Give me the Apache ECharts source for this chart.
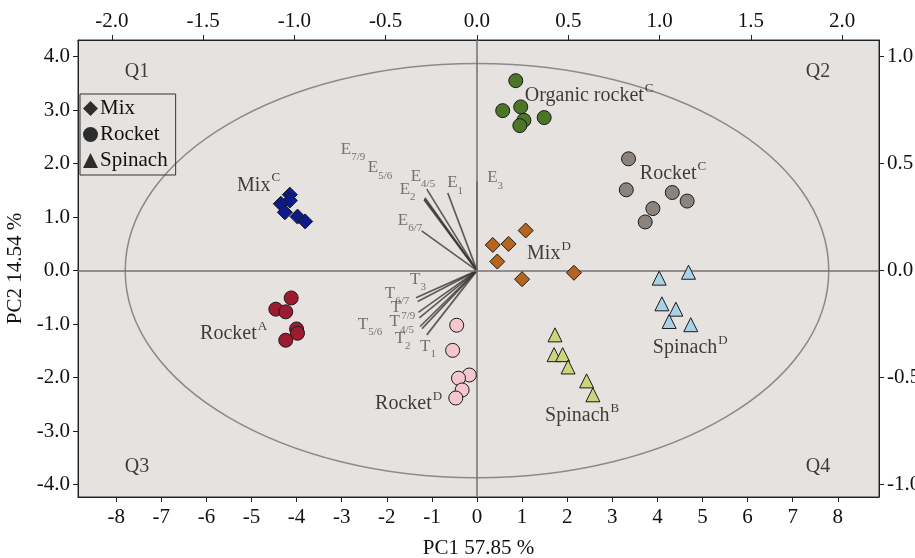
<!DOCTYPE html>
<html>
<head>
<meta charset="utf-8">
<script src="https://cdn.jsdelivr.net/npm/echarts@6/dist/echarts.min.js"></script>
<style>
html,body{margin:0;padding:0;background:#fff;}
#chart{width:915px;height:558px;}
</style>
</head>
<body>
<div id="chart"></div>
<script>
// ---------- DATA ----------
const xTicks = [-8,-7,-6,-5,-4,-3,-2,-1,0,1,2,3,4,5,6,7,8];
const yTicks = [-4,-3,-2,-1,0,1,2,3,4];
const topTicks = [-2.0,-1.5,-1.0,-0.5,0.0,0.5,1.0,1.5,2.0];
const rightTicks = [-1.0,-0.5,0.0,0.5,1.0];

const mixC = [[-4.15,1.42],[-4.15,1.31],[-4.35,1.25],[-4.26,1.09],[-3.98,1.01],[-3.81,0.92]];
const mixD = [[1.08,0.75],[0.35,0.48],[0.70,0.50],[0.45,0.17],[1.00,-0.16],[2.15,-0.04]];
const rocketA = [[-4.12,-0.51],[-4.46,-0.72],[-4.24,-0.77],[-4.00,-1.09],[-3.98,-1.17],[-4.24,-1.30]];
const rocketC = [[3.36,2.09],[3.31,1.51],[4.33,1.46],[4.66,1.30],[3.90,1.16],[3.73,0.91]];
const rocketD = [[-0.45,-1.02],[-0.54,-1.49],[-0.17,-1.95],[-0.41,-2.01],[-0.33,-2.23],[-0.47,-2.38]];
const organicRocketC = [[0.86,3.55],[0.57,2.99],[0.97,3.06],[1.04,2.81],[0.95,2.71],[1.49,2.86]];
const spinachB = [[1.73,-1.20],[1.71,-1.57],[1.90,-1.57],[2.02,-1.80],[2.43,-2.06],[2.57,-2.32]];
const spinachD = [[4.04,-0.14],[4.69,-0.03],[4.10,-0.62],[4.41,-0.72],[4.26,-0.95],[4.74,-1.01]];

// loadings (top / right axes): [x, y, letter, subscript]
const loadings = [
  [-0.160, 0.363, 'E', '1'],
  [-0.275, 0.381, 'E', '4/5'],
  [-0.290, 0.331, 'E', '2'],
  [-0.288, 0.336, 'E', '5/6'],
  [-0.285, 0.340, 'E', '7/9'],
  [-0.303, 0.186, 'E', '6/7'],
  [0.000, 0.417, 'E', '3'],
  [-0.334, -0.127, 'T', '3'],
  [-0.325, -0.144, 'T', '6/7'],
  [-0.321, -0.195, 'T', '7/9'],
  [-0.316, -0.221, 'T', '4/5'],
  [-0.312, -0.261, 'T', '5/6'],
  [-0.301, -0.271, 'T', '2'],
  [-0.275, -0.300, 'T', '1']
];
// loading label anchors (top / right axes)
const loadingLabels = [
  [-0.120, 0.417, 'E', '1'],
  [-0.296, 0.448, 'E', '4/5'],
  [-0.380, 0.386, 'E', '2'],
  [-0.531, 0.487, 'E', '5/6'],
  [-0.679, 0.574, 'E', '7/9'],
  [-0.367, 0.243, 'E', '6/7'],
  [0.099, 0.440, 'E', '3'],
  [-0.323, -0.033, 'T', '3'],
  [-0.438, -0.099, 'T', '6/7'],
  [-0.405, -0.167, 'T', '7/9'],
  [-0.412, -0.233, 'T', '4/5'],
  [-0.586, -0.243, 'T', '5/6'],
  [-0.407, -0.309, 'T', '2'],
  [-0.268, -0.346, 'T', '1']
];
// group labels (bottom / left axes): [x, y, name, superscript]
const groupLabels = [
  [-5.32, 1.61, 'Mix', 'C'],
  [1.06, 3.29, 'Organic rocket', 'C'],
  [3.61, 1.83, 'Rocket', 'C'],
  [1.11, 0.33, 'Mix', 'D'],
  [3.90, -1.42, 'Spinach', 'D'],
  [1.51, -2.69, 'Spinach', 'B'],
  [-6.14, -1.16, 'Rocket', 'A'],
  [-2.26, -2.47, 'Rocket', 'D']
];
const quadrantLabels = [[-7.54, 3.72, 'Q1'], [7.56, 3.72, 'Q2'], [-7.54, -3.67, 'Q3'], [7.56, -3.67, 'Q4']];
const ellipseRadii = [7.8, 3.87];

// ---------- CHART ----------
const FONT = "'Liberation Serif','Times New Roman',serif";
const chart = echarts.init(document.getElementById('chart'));

function pts(name, data, symbol, color, size) {
  return {
    type: 'scatter', name: name, data: data, symbol: symbol, symbolSize: size,
    xAxisIndex: 0, yAxisIndex: 0, z: 5,
    itemStyle: { color: color, borderColor: '#1a1a1a', borderWidth: 1, opacity: 1 },
    emphasis: { disabled: true }
  };
}

const axisTextStyle = { fontFamily: FONT, fontSize: 21, color: '#111' };

const option = {
  animation: false,
  backgroundColor: '#ffffff',
  grid: { left: 78, top: 40, width: 801, height: 457, outerBoundsMode: 'none', containLabel: false,
    show: true, backgroundColor: '#e6e2df', borderColor: '#333', borderWidth: 1 },
  legend: {
    orient: 'vertical', left: 80, top: 94,
    borderColor: '#333', borderWidth: 1, padding: [4, 8, 4, 3], itemGap: 5,
    itemWidth: 15, itemHeight: 15, selectedMode: false,
    textStyle: { fontFamily: FONT, fontSize: 21, color: '#111', padding: [0, 0, 0, -3] },
    data: [{ name: 'Mix', icon: 'diamond' }, { name: 'Rocket', icon: 'circle' }, { name: 'Spinach', icon: 'triangle' }]
  },
  xAxis: [
    {
      type: 'value', position: 'bottom', min: -8.847, max: 8.914,
      name: 'PC1 57.85 %', nameLocation: 'middle', nameGap: 41,
      nameTextStyle: { fontFamily: FONT, fontSize: 21, color: '#111' },
      axisLine: { show: true, onZero: false, lineStyle: { color: '#222' } },
      axisTick: { show: true, length: 5, customValues: xTicks, lineStyle: { color: '#222' } },
      axisLabel: Object.assign({ customValues: xTicks, margin: 10, formatter: v => String(v) }, axisTextStyle),
      splitLine: { show: false }
    },
    {
      type: 'value', position: 'top', min: -2.185, max: 2.2015,
      axisLine: { show: true, onZero: false, lineStyle: { color: '#222' } },
      axisTick: { show: true, length: 5, customValues: topTicks, lineStyle: { color: '#222' } },
      axisLabel: Object.assign({ customValues: topTicks, margin: 8, formatter: v => v.toFixed(1) }, axisTextStyle),
      splitLine: { show: false }
    }
  ],
  yAxis: [
    {
      type: 'value', position: 'left', min: -4.23, max: 4.31,
      name: 'PC2 14.54 %', nameLocation: 'middle', nameGap: 45, nameRotate: 90,
      nameTextStyle: { fontFamily: FONT, fontSize: 21, color: '#111' },
      axisLine: { show: true, onZero: false, lineStyle: { color: '#222' } },
      axisTick: { show: true, length: 5, customValues: yTicks, lineStyle: { color: '#222' } },
      axisLabel: Object.assign({ customValues: yTicks, margin: 8, formatter: v => v.toFixed(1) }, axisTextStyle),
      splitLine: { show: false }
    },
    {
      type: 'value', position: 'right', min: -1.0575, max: 1.0775,
      axisLine: { show: true, onZero: false, lineStyle: { color: '#222' } },
      axisTick: { show: true, length: 5, customValues: rightTicks, lineStyle: { color: '#222' } },
      axisLabel: Object.assign({ customValues: rightTicks, margin: 8, formatter: v => v.toFixed(1) }, axisTextStyle),
      splitLine: { show: false }
    }
  ],
  series: [
    // ellipse
    {
      type: 'custom', xAxisIndex: 0, yAxisIndex: 0, silent: true, z: 1,
      data: [[0, 0]],
      renderItem: function (params, api) {
        const c = api.coord([api.value(0), api.value(1)]);
        const s = api.size(ellipseRadii);
        return { type: 'ellipse', shape: { cx: c[0], cy: c[1], rx: s[0], ry: s[1] },
          style: { fill: 'none', stroke: '#8a8a8a', lineWidth: 1.5 } };
      },
      markLine: {
        silent: true, symbol: ['none', 'none'], animation: false,
        label: { show: false },
        lineStyle: { color: '#727272', width: 1.5, type: 'solid' },
        data: [{ xAxis: 0 }, { yAxis: 0 }]
      }
    },
    // loading vectors
    {
      type: 'custom', xAxisIndex: 1, yAxisIndex: 1, silent: true, z: 3,
      data: loadings.map(d => [d[0], d[1]]),
      renderItem: function (params, api) {
        const o = api.coord([0, 0]);
        const p = api.coord([api.value(0), api.value(1)]);
        return { type: 'line', shape: { x1: o[0], y1: o[1], x2: p[0], y2: p[1] },
          style: { stroke: 'rgba(55,55,55,0.78)', lineWidth: 1.7 } };
      }
    },
    // loading labels
    {
      type: 'scatter', xAxisIndex: 1, yAxisIndex: 1, symbolSize: 0, silent: true, z: 4,
      data: loadingLabels.map(d => ({ value: [d[0], d[1]], l: d[2], s: d[3] })),
      label: {
        show: true, position: [0, 0], align: 'center', verticalAlign: 'middle',
        formatter: p => '{m|' + p.data.l + '}{s|' + p.data.s + '}',
        rich: {
          m: { fontFamily: FONT, fontSize: 17, color: '#555', lineHeight: 20, verticalAlign: 'bottom' },
          s: { fontFamily: FONT, fontSize: 11, color: '#555', lineHeight: 20, verticalAlign: 'bottom', padding: [0, 0, -5, 0] }
        }
      }
    },
    pts('MixC', mixC, 'diamond', '#0c1a8a', 15),
    pts('MixD', mixD, 'diamond', '#b5651e', 15),
    pts('RocketA', rocketA, 'circle', '#9d1a30', 14),
    pts('RocketC', rocketC, 'circle', '#8c837d', 14),
    pts('RocketD', rocketD, 'circle', '#f5c7cd', 14),
    pts('OrganicRocketC', organicRocketC, 'circle', '#4d7526', 14),
    pts('SpinachB', spinachB, 'triangle', '#cdd47e', 14),
    pts('SpinachD', spinachD, 'triangle', '#aad2e6', 14),
    // group labels
    {
      type: 'scatter', xAxisIndex: 0, yAxisIndex: 0, symbolSize: 0, silent: true, z: 6,
      data: groupLabels.map(d => ({ value: [d[0], d[1]], n: d[2], s: d[3] })),
      label: {
        show: true, position: [0, 0], align: 'left', verticalAlign: 'middle',
        formatter: p => '{m|' + p.data.n + '}{s|' + p.data.s + '}',
        rich: {
          m: { fontFamily: FONT, fontSize: 20, color: '#111', lineHeight: 22, verticalAlign: 'bottom' },
          s: { fontFamily: FONT, fontSize: 13, color: '#111', lineHeight: 22, verticalAlign: 'top', padding: [-2, 0, 0, 1] }
        }
      }
    },
    // quadrant labels
    {
      type: 'scatter', xAxisIndex: 0, yAxisIndex: 0, symbolSize: 0, silent: true, z: 6,
      data: quadrantLabels.map(d => ({ value: [d[0], d[1]], n: d[2] })),
      label: {
        show: true, position: [0, 0], align: 'center', verticalAlign: 'middle',
        formatter: p => p.data.n, fontFamily: FONT, fontSize: 20, color: '#111'
      }
    },
    // legend-only series
    { type: 'scatter', name: 'Mix', data: [], symbol: 'diamond', itemStyle: { color: '#000' } },
    { type: 'scatter', name: 'Rocket', data: [], symbol: 'circle', itemStyle: { color: '#000' } },
    { type: 'scatter', name: 'Spinach', data: [], symbol: 'triangle', itemStyle: { color: '#000' } }
  ]
};
chart.setOption(option);
</script>
</body>
</html>
